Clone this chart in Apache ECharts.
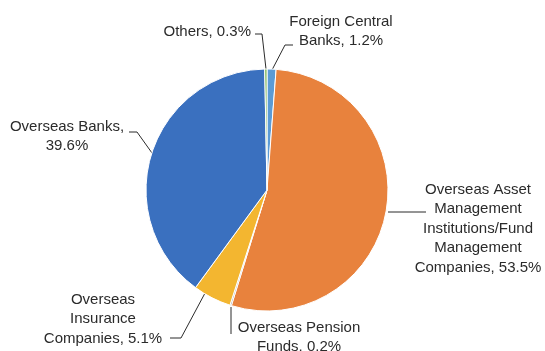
<!DOCTYPE html>
<html>
<head>
<meta charset="utf-8">
<script src="https://cdn.jsdelivr.net/npm/echarts@6/dist/echarts.min.js"></script>
<style>
  html, body { margin: 0; padding: 0; background: #fff; }
  #chart { width: 545px; height: 351px; }
</style>
</head>
<body>
<div id="chart"></div>
<script>
// Holders, clockwise from 12 o'clock
const holders = [
  'Foreign Central Banks',
  'Overseas Asset Management Institutions/Fund Management Companies',
  'Overseas Pension Funds',
  'Overseas Insurance Companies',
  'Overseas Banks',
  'Others'
];
const shares = [1.2, 53.5, 0.2, 5.1, 39.6, 0.3];
const labelLines = [
  ['Foreign Central', 'Banks, 1.2%'],
  ['Overseas Asset', 'Management', 'Institutions/Fund', 'Management', 'Companies, 53.5%'],
  ['Overseas Pension', 'Funds, 0.2%'],
  ['Overseas', 'Insurance', 'Companies, 5.1%'],
  ['Overseas Banks,', '39.6%'],
  ['Others, 0.3%']
];
const colors = ['#5B9BD5', '#E8823D', '#A5A5A5', '#F3B630', '#3A70BF', '#70AD47'];

// label anchor (x, y of first line centre), alignment and leader line path
const layouts = [
  { x: 341, y: 22, align: 'center', line: [[272, 70], [285, 45], [293, 45]] },
  { x: 478, y: 190, align: 'center', line: [[388, 212], [426, 212]] },
  { x: 299, y: 328, align: 'center', line: [[231, 307], [231, 334]] },
  { x: 103, y: 300, align: 'center', line: [[212, 280], [181, 338], [170, 338]] },
  { x: 67, y: 127, align: 'center', line: [[152, 153], [137, 132], [129, 132]] },
  { x: 251, y: 32, align: 'right', line: [[266, 69], [262, 34], [255, 34]] }
];

const chart = echarts.init(document.getElementById('chart'), null, { renderer: 'canvas' });
chart.setOption({
  animation: false,
  series: [{
    type: 'pie',
    center: [267, 190],
    radius: 121,
    startAngle: 90,
    clockwise: true,
    avoidLabelOverlap: false,
    itemStyle: { borderColor: '#fff', borderWidth: 1 },
    label: {
      show: true,
      color: '#2b2b2b',
      fontFamily: 'Liberation Sans, Arial, sans-serif',
      fontSize: 15,
      lineHeight: 19.5,
      formatter: p => labelLines[p.dataIndex].join('\n')
    },
    labelLine: { show: true, lineStyle: { color: '#2b2b2b', width: 1 } },
    labelLayout: p => {
      const L = layouts[p.dataIndex];
      return {
        x: L.x,
        y: L.y - 10,
        align: L.align,
        verticalAlign: 'top',
        labelLinePoints: L.line
      };
    },
    data: holders.map((n, i) => ({ name: n, value: shares[i], itemStyle: { color: colors[i] } }))
  }]
});
</script>
</body>
</html>
